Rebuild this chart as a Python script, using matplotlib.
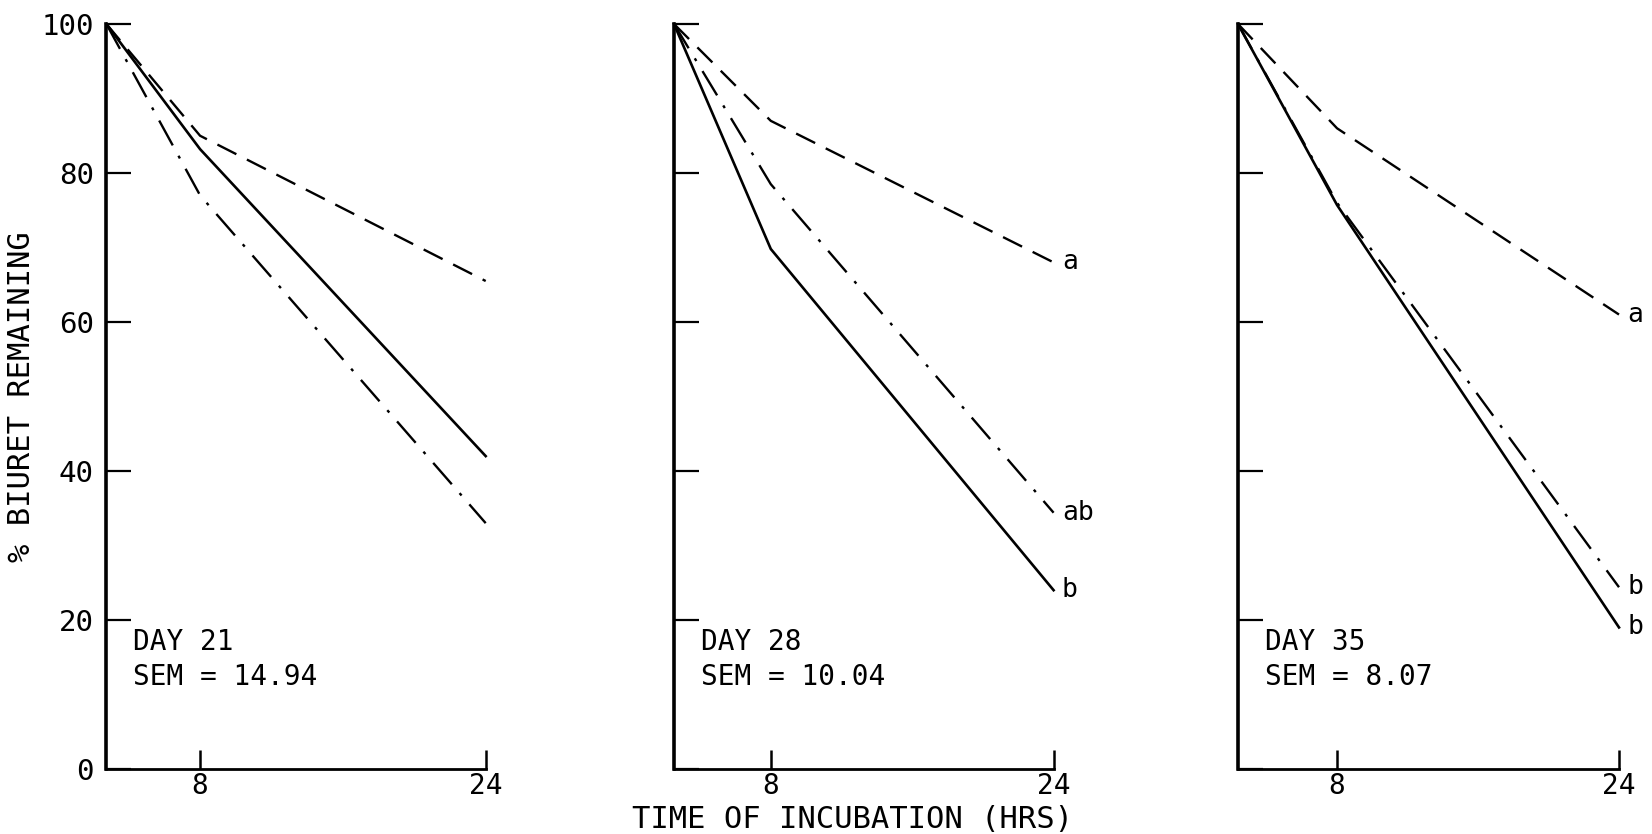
import numpy as np
import matplotlib
matplotlib.use("Agg")
import matplotlib.pyplot as plt

# ---------------- data ----------------
hours = [0, 8, 24]
day_labels = ["DAY 21", "DAY 28", "DAY 35"]
sem_labels = ["SEM = 14.94", "SEM = 10.04", "SEM = 8.07"]

# % biuret remaining (dashed, dash-dot, solid) per day
day21_dashed = [100, 85.0, 65.5]
day21_dashdot = [100, 77.0, 33.0]
day21_solid = [100, 83.2, 42.0]

day28_dashed = [100, 87.0, 68.0]
day28_dashdot = [100, 78.5, 34.4]
day28_solid = [100, 69.8, 24.0]

day35_dashed = [100, 86.0, 61.0]
day35_dashdot = [100, 76.0, 24.4]
day35_solid = [100, 75.7, 19.0]

# significance letters at line ends (dashed, dash-dot, solid)
day21_letters = ["", "", ""]
day28_letters = ["a", "ab", "b"]
day35_letters = ["a", "b", "b"]

yticks = [0, 20, 40, 60, 80, 100]
xticks = [8, 24]

panels = [
    (day21_dashed, day21_dashdot, day21_solid, day21_letters),
    (day28_dashed, day28_dashdot, day28_solid, day28_letters),
    (day35_dashed, day35_dashdot, day35_solid, day35_letters),
]

# ---------------- layout ----------------
W, H = 1652, 834
fig = plt.figure(figsize=(W / 100, H / 100), dpi=100)
plt.rcParams['font.family'] = ['DejaVu Sans Mono', 'DejaVu Sans']

ax_left_px = [106.4, 674.0, 1238.0]
ax_right_px = [485.7, 1053.6, 1619.0]
knot8_frac = [0.247, 0.255, 0.26]   # axis position of 8 h tick (typed scale)
bottom = 1 - 769 / H
top = 1 - 24 / H


def make_scale(frac):
    k = frac * 24.0

    def fwd(x):
        x = np.asarray(x, dtype=float)
        return np.where(x <= 8, x * k / 8.0, k + (x - 8) * (24 - k) / 16.0)

    def inv(y):
        y = np.asarray(y, dtype=float)
        return np.where(y <= k, y * 8.0 / k, 8 + (y - k) * 16.0 / (24 - k))
    return fwd, inv


for i, (dashed, dashdot, solid, letters) in enumerate(panels):
    l = ax_left_px[i] / W
    w = (ax_right_px[i] - ax_left_px[i]) / W
    ax = fig.add_axes([l, bottom, w, top - bottom])
    ax.set_xscale('function', functions=make_scale(knot8_frac[i]))
    ax.set_xlim(0, 24)
    ax.set_ylim(0, 100)

    ln1, = ax.plot(hours, dashed, color='black', lw=1.7, clip_on=False)
    ln1.set_dashes((9, 5))
    ln2, = ax.plot(hours, dashdot, color='black', lw=1.7, clip_on=False)
    ln2.set_dashes((12, 5, 1.3, 5))
    ax.plot(hours, solid, color='black', lw=1.9, clip_on=False)

    for vals, lab in zip((dashed, dashdot, solid), letters):
        if lab:
            ax.annotate(lab, xy=(hours[-1], vals[-1]), xytext=(6, 0),
                        textcoords='offset points', ha='left', va='center',
                        fontsize=19, color='black', annotation_clip=False)

    for s in ('top', 'right'):
        ax.spines[s].set_visible(False)
    ax.spines['left'].set_linewidth(2.6)
    ax.spines['bottom'].set_linewidth(2.0)

    ax.set_yticks(yticks)
    ax.tick_params(axis='y', direction='in', length=18, width=1.6,
                   labelsize=21, pad=9)
    if i > 0:
        ax.set_yticklabels([])
    ax.set_xticks(xticks)
    ax.set_xticklabels([str(t) for t in xticks])
    ax.tick_params(axis='x', direction='in', length=14, width=1.8,
                   labelsize=20, pad=2)
    ax.xaxis.set_minor_locator(matplotlib.ticker.NullLocator())

    ax.text(0.07, 16.0, day_labels[i], transform=ax.get_yaxis_transform(),
            fontsize=20, ha='left', va='baseline')
    ax.text(0.07, 11.3, sem_labels[i], transform=ax.get_yaxis_transform(),
            fontsize=20, ha='left', va='baseline')

    if i == 0:
        ax.set_ylabel('% BIURET REMAINING', fontsize=22, labelpad=4)

fig.text(852 / W, 1 - 820 / H, 'TIME OF INCUBATION (HRS)', fontsize=22,
         ha='center', va='center')

fig.savefig('out.png', dpi=100, facecolor='white')
